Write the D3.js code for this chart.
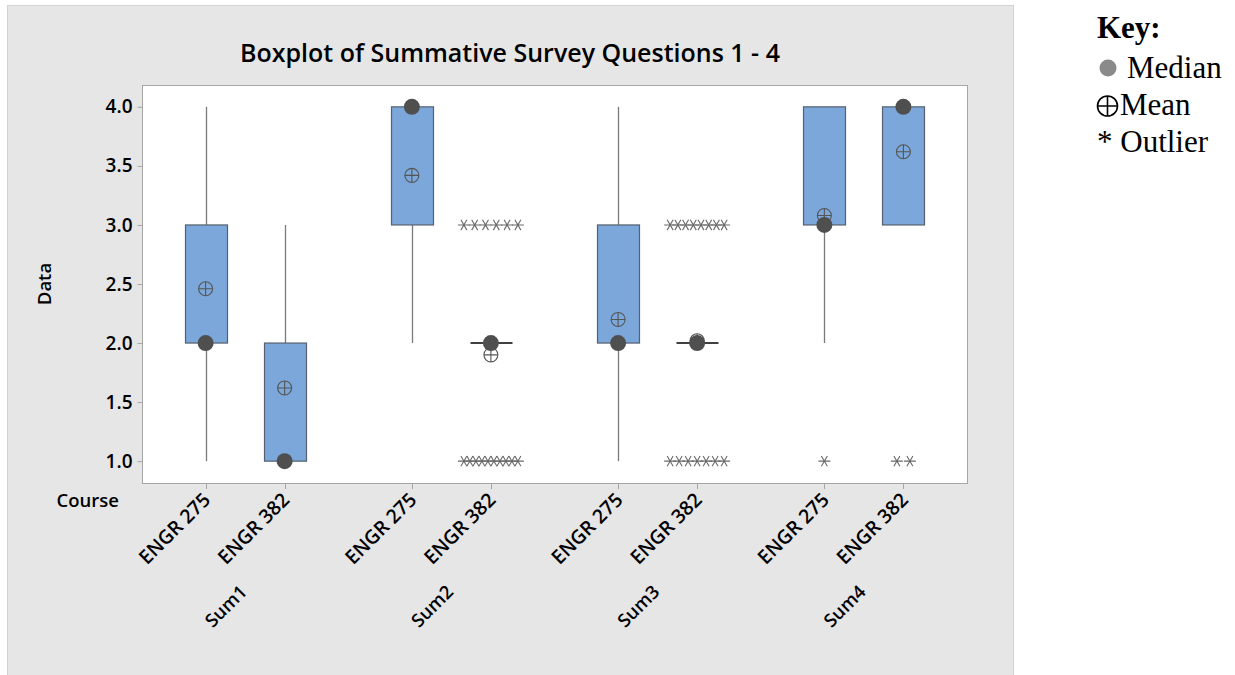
<!DOCTYPE html>
<html>
<head>
<meta charset="utf-8">
<script src="https://cdn.jsdelivr.net/npm/d3@7"></script>
<style>
  html, body { margin: 0; padding: 0; background: #ffffff; }
  svg { display: block; }
  .sans { font-family: "Open Sans", "Noto Sans", sans-serif; }
  .serif { font-family: "Liberation Serif", "Times New Roman", serif; }
</style>
</head>
<body>
<script>
// Summative survey questions, two courses per question
const groups = ["Sum1", "Sum2", "Sum3", "Sum4"];
const courses = ["ENGR 275", "ENGR 382"];

// One entry per box, ordered Sum1/275, Sum1/382, Sum2/275, ...
const q1Values      = [2, 1, 3, 2, 2, 2, 3, 3];
const q3Values      = [3, 2, 4, 2, 3, 2, 4, 4];
const medianValues  = [2, 1, 4, 2, 2, 2, 3, 4];
const meanValues    = [2.46, 1.62, 3.42, 1.90, 2.20, 2.02, 3.08, 3.62];
const whiskerLow    = [1, 1, 2, 2, 1, 2, 2, 3];
const whiskerHigh   = [4, 3, 4, 2, 4, 2, 4, 4];
// Outliers: value and how many responses share it
const outlierValues = [[], [], [], [3, 1], [], [3, 1], [1], [1]];
const outlierCounts = [[], [], [], [6, 10], [], [8, 7], [1], [2]];

const yTicks = [1.0, 1.5, 2.0, 2.5, 3.0, 3.5, 4.0];

const W = 1235, H = 675;
const plot = { left: 142, right: 967, top: 85, bottom: 483 };
const labelFont = 18.5;

const svg = d3.select("body").append("svg")
  .attr("width", W).attr("height", H);

// Outer graph panel
svg.append("rect")
  .attr("x", 7.5).attr("y", 5.5).attr("width", 1006).attr("height", 675)
  .attr("fill", "#e6e6e6").attr("stroke", "#d2d2d2");

// Scales
const x0 = d3.scaleBand().domain(groups).range([plot.left, plot.right]).padding(0);
const x1 = d3.scalePoint().domain(courses).range([0, x0.bandwidth()]).padding(0.805);
const y = d3.scaleLinear().domain([0.815, 4.185]).range([plot.bottom, plot.top]);

// Data region
svg.append("rect")
  .attr("x", plot.left + 0.5).attr("y", plot.top + 0.5)
  .attr("width", plot.right - plot.left).attr("height", plot.bottom - plot.top)
  .attr("fill", "#ffffff").attr("stroke", "#a6a6a6");

// Title
svg.append("text").attr("class", "sans")
  .attr("x", 510).attr("y", 62)
  .attr("text-anchor", "middle")
  .attr("font-size", 25).attr("font-weight", 600).attr("fill", "#000")
  .text("Boxplot of Summative Survey Questions 1 - 4");

// Y axis
const yAxis = d3.axisLeft(y).tickValues(yTicks).tickFormat(d3.format(".1f"))
  .tickSize(5).tickPadding(5);
const gy = svg.append("g").attr("transform", `translate(${plot.left + 0.5},0)`).call(yAxis);
gy.select(".domain").remove();
gy.selectAll(".tick line").attr("stroke", "#a6a6a6");
gy.selectAll(".tick text").attr("class", "sans")
  .attr("font-size", 19).attr("font-weight", 600).attr("fill", "#000");

svg.append("text").attr("class", "sans")
  .attr("transform", `translate(51,${(plot.top + plot.bottom) / 2}) rotate(-90)`)
  .attr("text-anchor", "middle")
  .attr("font-size", labelFont).attr("font-weight", 600).attr("fill", "#000")
  .text("Data");

// Box positions
const boxes = [];
groups.forEach((g, gi) => {
  courses.forEach((c, ci) => {
    const i = gi * courses.length + ci;
    boxes.push({
      group: g, course: c,
      cx: x0(g) + x1(c),
      q1: q1Values[i], q3: q3Values[i],
      median: medianValues[i], mean: meanValues[i],
      lo: whiskerLow[i], hi: whiskerHigh[i],
      outVals: outlierValues[i], outCounts: outlierCounts[i]
    });
  });
});

// X ticks and labels
const xg = svg.append("g");
boxes.forEach(b => {
  xg.append("line")
    .attr("x1", Math.round(b.cx) + 0.5).attr("x2", Math.round(b.cx) + 0.5)
    .attr("y1", plot.bottom + 0.5).attr("y2", plot.bottom + 6)
    .attr("stroke", "#a6a6a6");
  xg.append("text").attr("class", "sans")
    .attr("transform", `translate(${b.cx + 6},${plot.bottom + 18}) rotate(-45)`)
    .attr("text-anchor", "end")
    .attr("font-size", 19.5).attr("font-weight", 600).attr("fill", "#000")
    .text(b.course);
});
groups.forEach(g => {
  xg.append("text").attr("class", "sans")
    .attr("transform", `translate(${x0(g) + x0.bandwidth() / 2 + 3},${593}) rotate(-45)`)
    .attr("text-anchor", "end")
    .attr("font-size", labelFont).attr("font-weight", 600).attr("fill", "#000")
    .text(g);
});
svg.append("text").attr("class", "sans")
  .attr("x", 119).attr("y", 507)
  .attr("text-anchor", "end")
  .attr("font-size", labelFont).attr("font-weight", 600).attr("fill", "#000")
  .text("Course");

// Boxplots
const boxW = 42;
const marks = svg.append("g");
const fillBlue = "#7ba7da";
const boxStroke = "#56606e";

boxes.forEach(b => {
  const cx = Math.round(b.cx) + 0.5;
  // whiskers
  if (b.lo < b.q1) {
    marks.append("line").attr("x1", cx).attr("x2", cx)
      .attr("y1", y(b.lo)).attr("y2", y(b.q1))
      .attr("stroke", "#7a7a7a").attr("stroke-width", 1.3);
  }
  if (b.hi > b.q3) {
    marks.append("line").attr("x1", cx).attr("x2", cx)
      .attr("y1", y(b.hi)).attr("y2", y(b.q3))
      .attr("stroke", "#7a7a7a").attr("stroke-width", 1.3);
  }
  // box
  if (b.q3 > b.q1) {
    marks.append("rect")
      .attr("x", cx - boxW / 2).attr("y", y(b.q3))
      .attr("width", boxW).attr("height", y(b.q1) - y(b.q3))
      .attr("fill", fillBlue).attr("stroke", boxStroke).attr("stroke-width", 1.2);
  } else {
    marks.append("line")
      .attr("x1", cx - boxW / 2).attr("x2", cx + boxW / 2)
      .attr("y1", y(b.q1)).attr("y2", y(b.q1))
      .attr("stroke", "#404040").attr("stroke-width", 2);
  }
  // outliers: asterisks spread sideways when they share a value
  b.outVals.forEach((v, k) => {
    const n = b.outCounts[k];
    const step = n > 1 ? Math.min(13, 54 / (n - 1)) : 0;
    for (let j = 0; j < n; j++) {
      const ox = b.cx + (j - (n - 1) / 2) * step;
      const oy = y(v);
      const r = 6;
      const dx = r * Math.cos(Math.PI / 3), dy = r * Math.sin(Math.PI / 3);
      marks.append("path")
        .attr("d", `M${ox - r},${oy}H${ox + r}M${ox - dx},${oy - dy}L${ox + dx},${oy + dy}M${ox - dx},${oy + dy}L${ox + dx},${oy - dy}`)
        .attr("stroke", "#6a6a6a").attr("stroke-width", 1.1).attr("fill", "none");
    }
  });
  // mean symbol
  const my = y(b.mean);
  marks.append("circle").attr("cx", b.cx).attr("cy", my).attr("r", 7)
    .attr("fill", "none").attr("stroke", "#555").attr("stroke-width", 1.1);
  marks.append("path")
    .attr("d", `M${b.cx - 7},${my}H${b.cx + 7}M${b.cx},${my - 7}V${my + 7}`)
    .attr("stroke", "#555").attr("stroke-width", 1.1);
  // median dot
  marks.append("circle").attr("cx", b.cx).attr("cy", y(b.median)).attr("r", 8)
    .attr("fill", "#4f4f4f");
});

// Key
const key = svg.append("g");
key.append("text").attr("class", "serif")
  .attr("x", 1097).attr("y", 38)
  .attr("font-size", 31).attr("font-weight", "bold").attr("fill", "#000")
  .text("Key:");
key.append("circle").attr("cx", 1108).attr("cy", 68).attr("r", 8.5).attr("fill", "#8a8a8a");
key.append("text").attr("class", "serif")
  .attr("x", 1127).attr("y", 78).attr("font-size", 31).attr("fill", "#000")
  .text("Median");
key.append("circle").attr("cx", 1107.5).attr("cy", 106).attr("r", 10)
  .attr("fill", "none").attr("stroke", "#000").attr("stroke-width", 1.6);
key.append("path").attr("d", "M1097.5,106H1117.5M1107.5,96V116")
  .attr("stroke", "#000").attr("stroke-width", 1.6);
key.append("text").attr("class", "serif")
  .attr("x", 1120).attr("y", 115).attr("font-size", 31).attr("fill", "#000")
  .text("Mean");
key.append("text").attr("class", "serif")
  .attr("x", 1097).attr("y", 152).attr("font-size", 31).attr("fill", "#000")
  .text("* Outlier");
</script>
</body>
</html>
